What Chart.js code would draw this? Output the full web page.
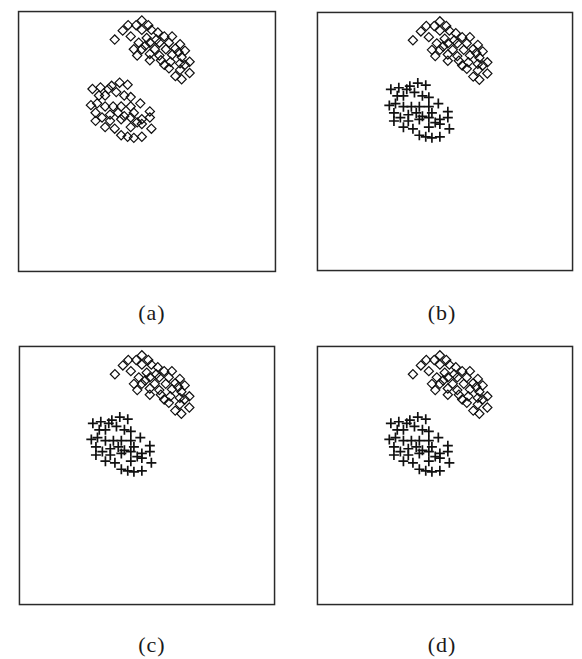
<!DOCTYPE html>
<html>
<head>
<meta charset="utf-8">
<script src="https://cdn.jsdelivr.net/npm/chart.js@4.4.1/dist/chart.umd.min.js"></script>
<style>
    body { margin: 0; background: #fff; width: 582px; height: 659px; position: relative; overflow: hidden; }
    .panel { position: absolute; width: 270px; height: 273px; }
    .label { position: absolute; width: 60px; margin-left: -30px; text-align: center;
             font-family: "Liberation Serif", serif; font-size: 22px; line-height: 22px;
             letter-spacing: 1px; padding-left: 1px; color: #1a1a1a; }
</style>
</head>
<body>
<div class="panel" style="left:12px; top:5px;"><canvas id="chartA"></canvas></div>
<div class="panel" style="left:310px; top:5px;"><canvas id="chartB"></canvas></div>
<div class="panel" style="left:12px; top:339px;"><canvas id="chartC"></canvas></div>
<div class="panel" style="left:310px; top:339px;"><canvas id="chartD"></canvas></div>
<div class="label" style="left:151px; top:302px;">(a)</div>
<div class="label" style="left:441px; top:302px;">(b)</div>
<div class="label" style="left:151px; top:634px;">(c)</div>
<div class="label" style="left:441px; top:634px;">(d)</div>

<script>
// Upper cluster (diamonds in every panel)
const upperX = [4.80, 4.27, 4.58, 5.05, 4.06, 4.80, 5.17, 5.42, 4.37, 4.99, 5.67, 5.97, 3.75,
    4.68, 5.11, 5.48, 5.85, 6.28, 4.49, 4.80, 5.30, 5.73, 6.10, 6.47, 4.62, 5.11, 5.48, 5.97,
    6.34, 6.65, 5.11, 5.54, 5.91, 6.28, 5.85, 6.28, 6.65, 6.10, 6.34, 4.93, 5.36, 6.22, 6.47, 5.67];
const upperY = [9.63, 9.45, 9.45, 9.45, 9.24, 9.27, 9.27, 9.17, 9.02, 8.96, 9.02, 9.02, 8.90,
    8.78, 8.78, 8.78, 8.78, 8.72, 8.53, 8.53, 8.53, 8.53, 8.56, 8.47, 8.29, 8.35, 8.29, 8.32,
    8.23, 8.05, 8.11, 8.11, 8.05, 7.99, 7.80, 7.74, 7.62, 7.50, 7.38, 8.66, 8.90, 8.41, 7.93, 7.93];

// Lower cluster (diamonds in (a), crosses in (b)-(d))
const lowerX = [2.89, 3.20, 3.51, 3.63, 3.94, 4.25, 3.81, 4.12, 4.37, 3.14, 3.38, 2.83, 3.07,
    3.38, 3.69, 4.00, 4.37, 4.74, 3.01, 3.26, 3.57, 3.88, 4.49, 5.11, 3.01, 3.57, 4.00, 4.37,
    4.80, 5.11, 3.38, 3.75, 4.37, 4.80, 5.17, 4.00, 4.25, 4.49, 4.80, 4.12, 4.62];
const lowerY = [7.01, 7.07, 7.01, 7.13, 7.25, 7.17, 6.89, 6.76, 6.70, 6.76, 6.76, 6.39, 6.46,
    6.34, 6.34, 6.34, 6.34, 6.46, 6.10, 5.92, 6.03, 6.10, 6.10, 6.15, 5.79, 5.79, 5.85, 5.92,
    5.85, 5.92, 5.55, 5.49, 5.55, 5.67, 5.49, 5.24, 5.18, 5.14, 5.18, 5.97, 5.73];

const axisMin = 0;
const axisMax = 10;

function toPoints(xs, ys) {
    return xs.map((x, i) => ({ x: x, y: ys[i] }));
}

// Draw the square frame around the plot area
const framePlugin = {
    id: 'frame',
    afterDraw(chart) {
        const a = chart.chartArea;
        const ctx = chart.ctx;
        ctx.save();
        ctx.strokeStyle = '#2a2a2a';
        ctx.lineWidth = 1.5;
        ctx.strokeRect(a.left + 0.75, a.top + 0.75, a.right - a.left - 1.5, a.bottom - a.top - 1.5);
        ctx.restore();
    }
};

function diamondSet(xs, ys) {
    return {
        data: toPoints(xs, ys),
        pointStyle: 'rectRot',
        pointRadius: 4.6,
        pointBorderWidth: 1.2,
        borderColor: '#111',
        backgroundColor: 'rgba(0,0,0,0)'
    };
}

function crossSet(xs, ys) {
    return {
        data: toPoints(xs, ys),
        pointStyle: 'cross',
        pointRadius: 5,
        pointBorderWidth: 1.7,
        borderColor: '#111',
        backgroundColor: '#111'
    };
}

function makePanel(id, lowerAsCross) {
    const ctx = document.getElementById(id).getContext('2d');
    new Chart(ctx, {
        type: 'scatter',
        data: {
            datasets: [
                diamondSet(upperX, upperY),
                lowerAsCross ? crossSet(lowerX, lowerY) : diamondSet(lowerX, lowerY)
            ]
        },
        options: {
            responsive: true,
            maintainAspectRatio: false,
            animation: false,
            layout: { padding: 0 },
            plugins: {
                legend: { display: false },
                tooltip: { enabled: false }
            },
            scales: {
                x: { type: 'linear', min: axisMin, max: axisMax, display: false },
                y: { type: 'linear', min: axisMin, max: axisMax, display: false }
            }
        },
        plugins: [framePlugin]
    });
}

makePanel('chartA', false);
makePanel('chartB', true);
makePanel('chartC', true);
makePanel('chartD', true);
</script>
</body>
</html>
